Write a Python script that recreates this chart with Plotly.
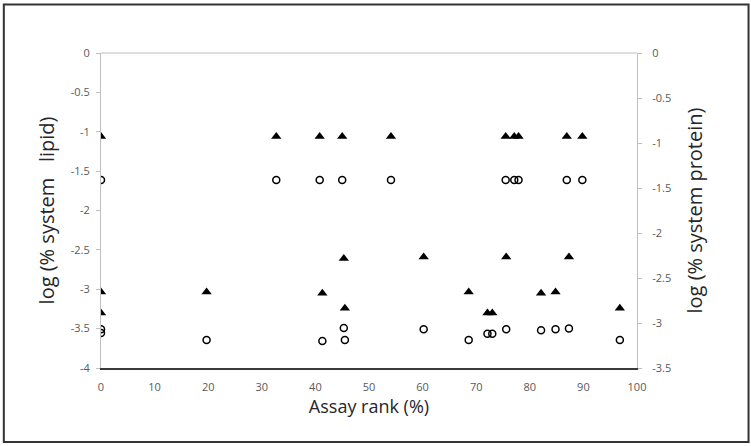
import plotly.graph_objects as go

# ---- data ----
assay_rank = [0, 0, 0, 19.7, 32.7, 40.8, 41.3, 45.0, 45.3, 45.5, 54.1, 60.2, 68.6,
              72.1, 73.0, 75.5, 75.6, 77.1, 77.9, 82.1, 84.8, 86.9, 87.3, 89.8, 96.8]
log_lipid = [-1.06, -3.035, -3.30, -3.035, -1.06, -1.06, -3.05, -1.06, -2.61, -3.24,
             -1.06, -2.59, -3.035, -3.30, -3.30, -1.06, -2.59, -1.06, -1.06, -3.05,
             -3.035, -1.06, -2.59, -1.06, -3.24]
log_protein = [-1.41, -3.07, -3.11, -3.19, -1.41, -1.41, -3.20, -1.41, -3.055, -3.19,
               -1.41, -3.07, -3.19, -3.12, -3.12, -1.41, -3.07, -1.41, -1.41, -3.08,
               -3.07, -1.41, -3.06, -1.41, -3.19]

x_ticks = [0, 10, 20, 30, 40, 50, 60, 70, 80, 90, 100]
x_ticktext = ["0", "10", "20", "30", "40", "50", "60", "70", "80", "90", "100"]
y1_ticks = [0, -0.5, -1, -1.5, -2, -2.5, -3, -3.5, -4]
y1_ticktext = ["0", "-0.5", "-1", "-1.5", "-2", "-2.5", "-3", "-3.5", "-4"]
y2_ticks = [0, -0.5, -1, -1.5, -2, -2.5, -3, -3.5]
y2_ticktext = ["0", "-0.5", "-1", "-1.5", "-2", "-2.5", "-3", "-3.5"]

FONT = "Open Sans, Roboto, sans-serif"
TICKCOL = "#595959"
AXGRAY = "#bfbfbf"

fig = go.Figure()
fig.add_trace(go.Scatter(
    x=assay_rank, y=log_lipid, mode="markers", name="lipid",
    marker=dict(symbol="triangle-up", size=9, color="black", line=dict(width=0)),
    yaxis="y"))
fig.add_trace(go.Scatter(
    x=assay_rank, y=log_protein, mode="markers", name="protein",
    marker=dict(symbol="circle-open", size=7, color="black", line=dict(width=1.5)),
    yaxis="y2"))

fig.update_layout(
    width=751, height=446,
    margin=dict(l=100.5, r=114.3, t=52.5, b=78.3, autoexpand=False),
    paper_bgcolor="white", plot_bgcolor="white",
    showlegend=False,
    font=dict(family=FONT, color=TICKCOL, size=11),
    xaxis=dict(
        range=[0, 100], tickvals=x_ticks, ticktext=x_ticktext,
        showgrid=False, zeroline=False, showline=True, linecolor="#3a3a3a", linewidth=2,
        ticks="", ticklabelstandoff=8,
        tickfont=dict(family=FONT, size=11, color=TICKCOL),
        title=dict(text="Assay rank (%)", standoff=3,
                   font=dict(family=FONT, size=18, color="#262626")),
    ),
    yaxis=dict(
        range=[-4, 0], tickvals=y1_ticks, ticktext=y1_ticktext,
        showgrid=False, zeroline=False, showline=True, linecolor=AXGRAY, linewidth=1,
        ticks="outside", ticklen=4, tickcolor=AXGRAY, ticklabelstandoff=4,
        tickfont=dict(family=FONT, size=11, color=TICKCOL),
        title=dict(text="log (% system\u00a0\u00a0 lipid)", standoff=10,
                   font=dict(family=FONT, size=20, color="#262626")),
    ),
    yaxis2=dict(
        range=[-3.5, 0], tickvals=y2_ticks, ticktext=y2_ticktext,
        overlaying="y", side="right",
        showgrid=False, zeroline=False, showline=True, linecolor=AXGRAY, linewidth=1,
        ticks="outside", ticklen=4, tickcolor=AXGRAY, ticklabelstandoff=8,
        tickfont=dict(family=FONT, size=11, color=TICKCOL),
        title=dict(text="log (% system protein)", standoff=17,
                   font=dict(family=FONT, size=20, color="#262626")),
    ),
    shapes=[
        dict(type="line", xref="paper", yref="paper", x0=0, x1=1, y0=1, y1=1,
             line=dict(color=AXGRAY, width=1)),
        dict(type="rect", xref="paper", yref="paper",
             x0=-0.1813, x1=1.2081, y0=-0.2348, y1=1.1539,
             line=dict(color="#333333", width=2), layer="above"),
    ],
)

fig.write_html(
    "out.html",
    config={"displayModeBar": False},
    post_script="document.body.style.margin='0';document.body.style.overflow='hidden';",
)
